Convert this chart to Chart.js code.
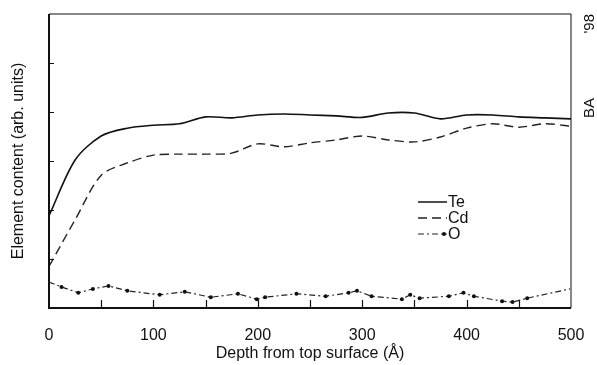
<!DOCTYPE html>
<html>
<head>
<meta charset="utf-8">
<script src="https://cdn.jsdelivr.net/npm/chart.js@4.4.1/dist/chart.umd.min.js"></script>
<style>
  html, body { margin: 0; padding: 0; background: #fff; }
  #wrap { width: 597px; height: 365px; position: relative; }
</style>
</head>
<body>
<div id="wrap"><canvas id="chart"></canvas></div>
<script>
// depth grid (Angstrom) and readings (arb. units, 0..6)
const depthGrid = [0, 25, 50, 75, 100, 125, 150, 175, 200, 225, 250, 275, 300, 325, 350, 375, 400, 425, 450, 475, 500];
const teValues = [1.88, 3.02, 3.51, 3.67, 3.73, 3.76, 3.90, 3.88, 3.94, 3.96, 3.94, 3.92, 3.89, 3.98, 3.98, 3.86, 3.94, 3.94, 3.90, 3.88, 3.86];
const cdValues = [0.85, 1.80, 2.71, 2.96, 3.12, 3.14, 3.14, 3.16, 3.35, 3.29, 3.37, 3.43, 3.51, 3.43, 3.39, 3.49, 3.67, 3.76, 3.69, 3.76, 3.71];

const oDepth = [0, 12, 28, 42, 57, 75, 106, 130, 155, 181, 199, 207, 237, 265, 287, 295, 309, 338, 346, 355, 383, 397, 407, 434, 444, 458, 499];
const oValues = [0.53, 0.43, 0.31, 0.39, 0.45, 0.35, 0.27, 0.33, 0.22, 0.29, 0.18, 0.22, 0.29, 0.24, 0.31, 0.35, 0.24, 0.18, 0.27, 0.20, 0.24, 0.31, 0.24, 0.14, 0.12, 0.20, 0.39];

const xTicks = [0, 100, 200, 300, 400, 500];
const seriesNames = ['Te', 'Cd', 'O'];

function pairs(xs, ys) {
  return xs.map((x, i) => ({ x: x, y: ys[i] }));
}

const FONT = '"Liberation Sans", Arial, sans-serif';

// frame, inward ticks, legend and side note
const decor = {
  id: 'decor',
  afterDraw(chart) {
    const ctx = chart.ctx;
    const a = chart.chartArea;
    const xs = chart.scales.x;
    const ys = chart.scales.y;
    ctx.save();
    ctx.strokeStyle = '#111';
    // frame
    ctx.lineWidth = 1;
    ctx.beginPath();
    ctx.moveTo(a.left, a.top); ctx.lineTo(a.right, a.top); ctx.lineTo(a.right, a.bottom);
    ctx.stroke();
    ctx.lineWidth = 2;
    ctx.beginPath();
    ctx.moveTo(a.left, a.top); ctx.lineTo(a.left, a.bottom); ctx.lineTo(a.right, a.bottom);
    ctx.stroke();
    // inward ticks
    ctx.lineWidth = 1.2;
    ctx.beginPath();
    for (let v = 50; v < 500; v += 50) {
      const px = Math.round(xs.getPixelForValue(v)) + 0.5;
      ctx.moveTo(px, a.bottom); ctx.lineTo(px, a.bottom - 8);
    }
    for (let v = 1; v < 6; v++) {
      const py = Math.round(ys.getPixelForValue(v)) + 0.5;
      ctx.moveTo(a.left, py); ctx.lineTo(a.left + 5, py);
    }
    ctx.stroke();
    // legend
    ctx.font = '16px ' + FONT;
    ctx.fillStyle = '#111';
    ctx.textBaseline = 'middle';
    chart.data.datasets.forEach((ds, i) => {
      const y = 202 + i * 16;
      ctx.strokeStyle = '#222';
      ctx.lineWidth = ds.borderWidth;
      ctx.setLineDash(ds.borderDash || []);
      ctx.beginPath();
      ctx.moveTo(418, y); ctx.lineTo(447, y);
      ctx.stroke();
      ctx.setLineDash([]);
      if (i === 2) {
        ctx.beginPath();
        ctx.arc(444, y, 2, 0, Math.PI * 2);
        ctx.fill();
      }
      ctx.fillText(ds.label, 448, y + 1);
    });
    // side note
    ctx.translate(590, 118);
    ctx.rotate(-Math.PI / 2);
    ctx.textBaseline = 'middle';
    ctx.font = '15px ' + FONT;
    ctx.textAlign = 'left';
    ctx.fillText('BA', 0, 0);
    ctx.textAlign = 'right';
    ctx.fillText("'98", 104, 0);
    ctx.restore();
  }
};

new Chart(document.getElementById('chart'), {
  type: 'line',
  data: {
    datasets: [{
      label: seriesNames[0],
      data: pairs(depthGrid, teValues),
      borderColor: '#111',
      borderWidth: 1.6,
      pointRadius: 0,
      tension: 0.3,
      fill: false
    }, {
      label: seriesNames[1],
      data: pairs(depthGrid, cdValues),
      borderColor: '#222',
      borderWidth: 1.4,
      borderDash: [9, 5],
      pointRadius: 0,
      tension: 0.3,
      fill: false
    }, {
      label: seriesNames[2],
      data: pairs(oDepth, oValues),
      borderColor: '#222',
      backgroundColor: '#111',
      borderWidth: 1.2,
      borderDash: [6, 3, 2, 3],
      pointRadius: (c) => (c.dataIndex === 0 || c.dataIndex === oDepth.length - 1) ? 0 : 2,
      pointBorderWidth: 0,
      tension: 0,
      fill: false
    }]
  },
  options: {
    responsive: true,
    maintainAspectRatio: false,
    animation: false,
    layout: { padding: { left: 0, right: 26, top: 14, bottom: 0 } },
    plugins: { legend: { display: false }, tooltip: { enabled: false } },
    scales: {
      x: {
        type: 'linear',
        min: 0,
        max: 500,
        grid: { display: false },
        border: { display: false },
        afterBuildTicks: (s) => { s.ticks = xTicks.map(v => ({ value: v })); },
        afterFit: (s) => { s.height = 57; },
        ticks: {
          color: '#111',
          padding: 10,
          maxRotation: 0,
          font: { family: FONT, size: 16 }
        },
        title: {
          display: true,
          text: 'Depth from top surface (Å)',
          color: '#111',
          padding: { top: 4, bottom: 2 },
          font: { family: FONT, size: 16 }
        }
      },
      y: {
        min: 0,
        max: 6,
        grid: { display: false },
        border: { display: false },
        ticks: { display: false, stepSize: 1 },
        afterFit: (s) => { s.width = 49; },
        title: {
          display: true,
          text: 'Element content (arb. units)',
          color: '#111',
          padding: { top: 9, bottom: 0 },
          font: { family: FONT, size: 16 }
        }
      }
    }
  },
  plugins: [decor]
});
</script>
</body>
</html>
